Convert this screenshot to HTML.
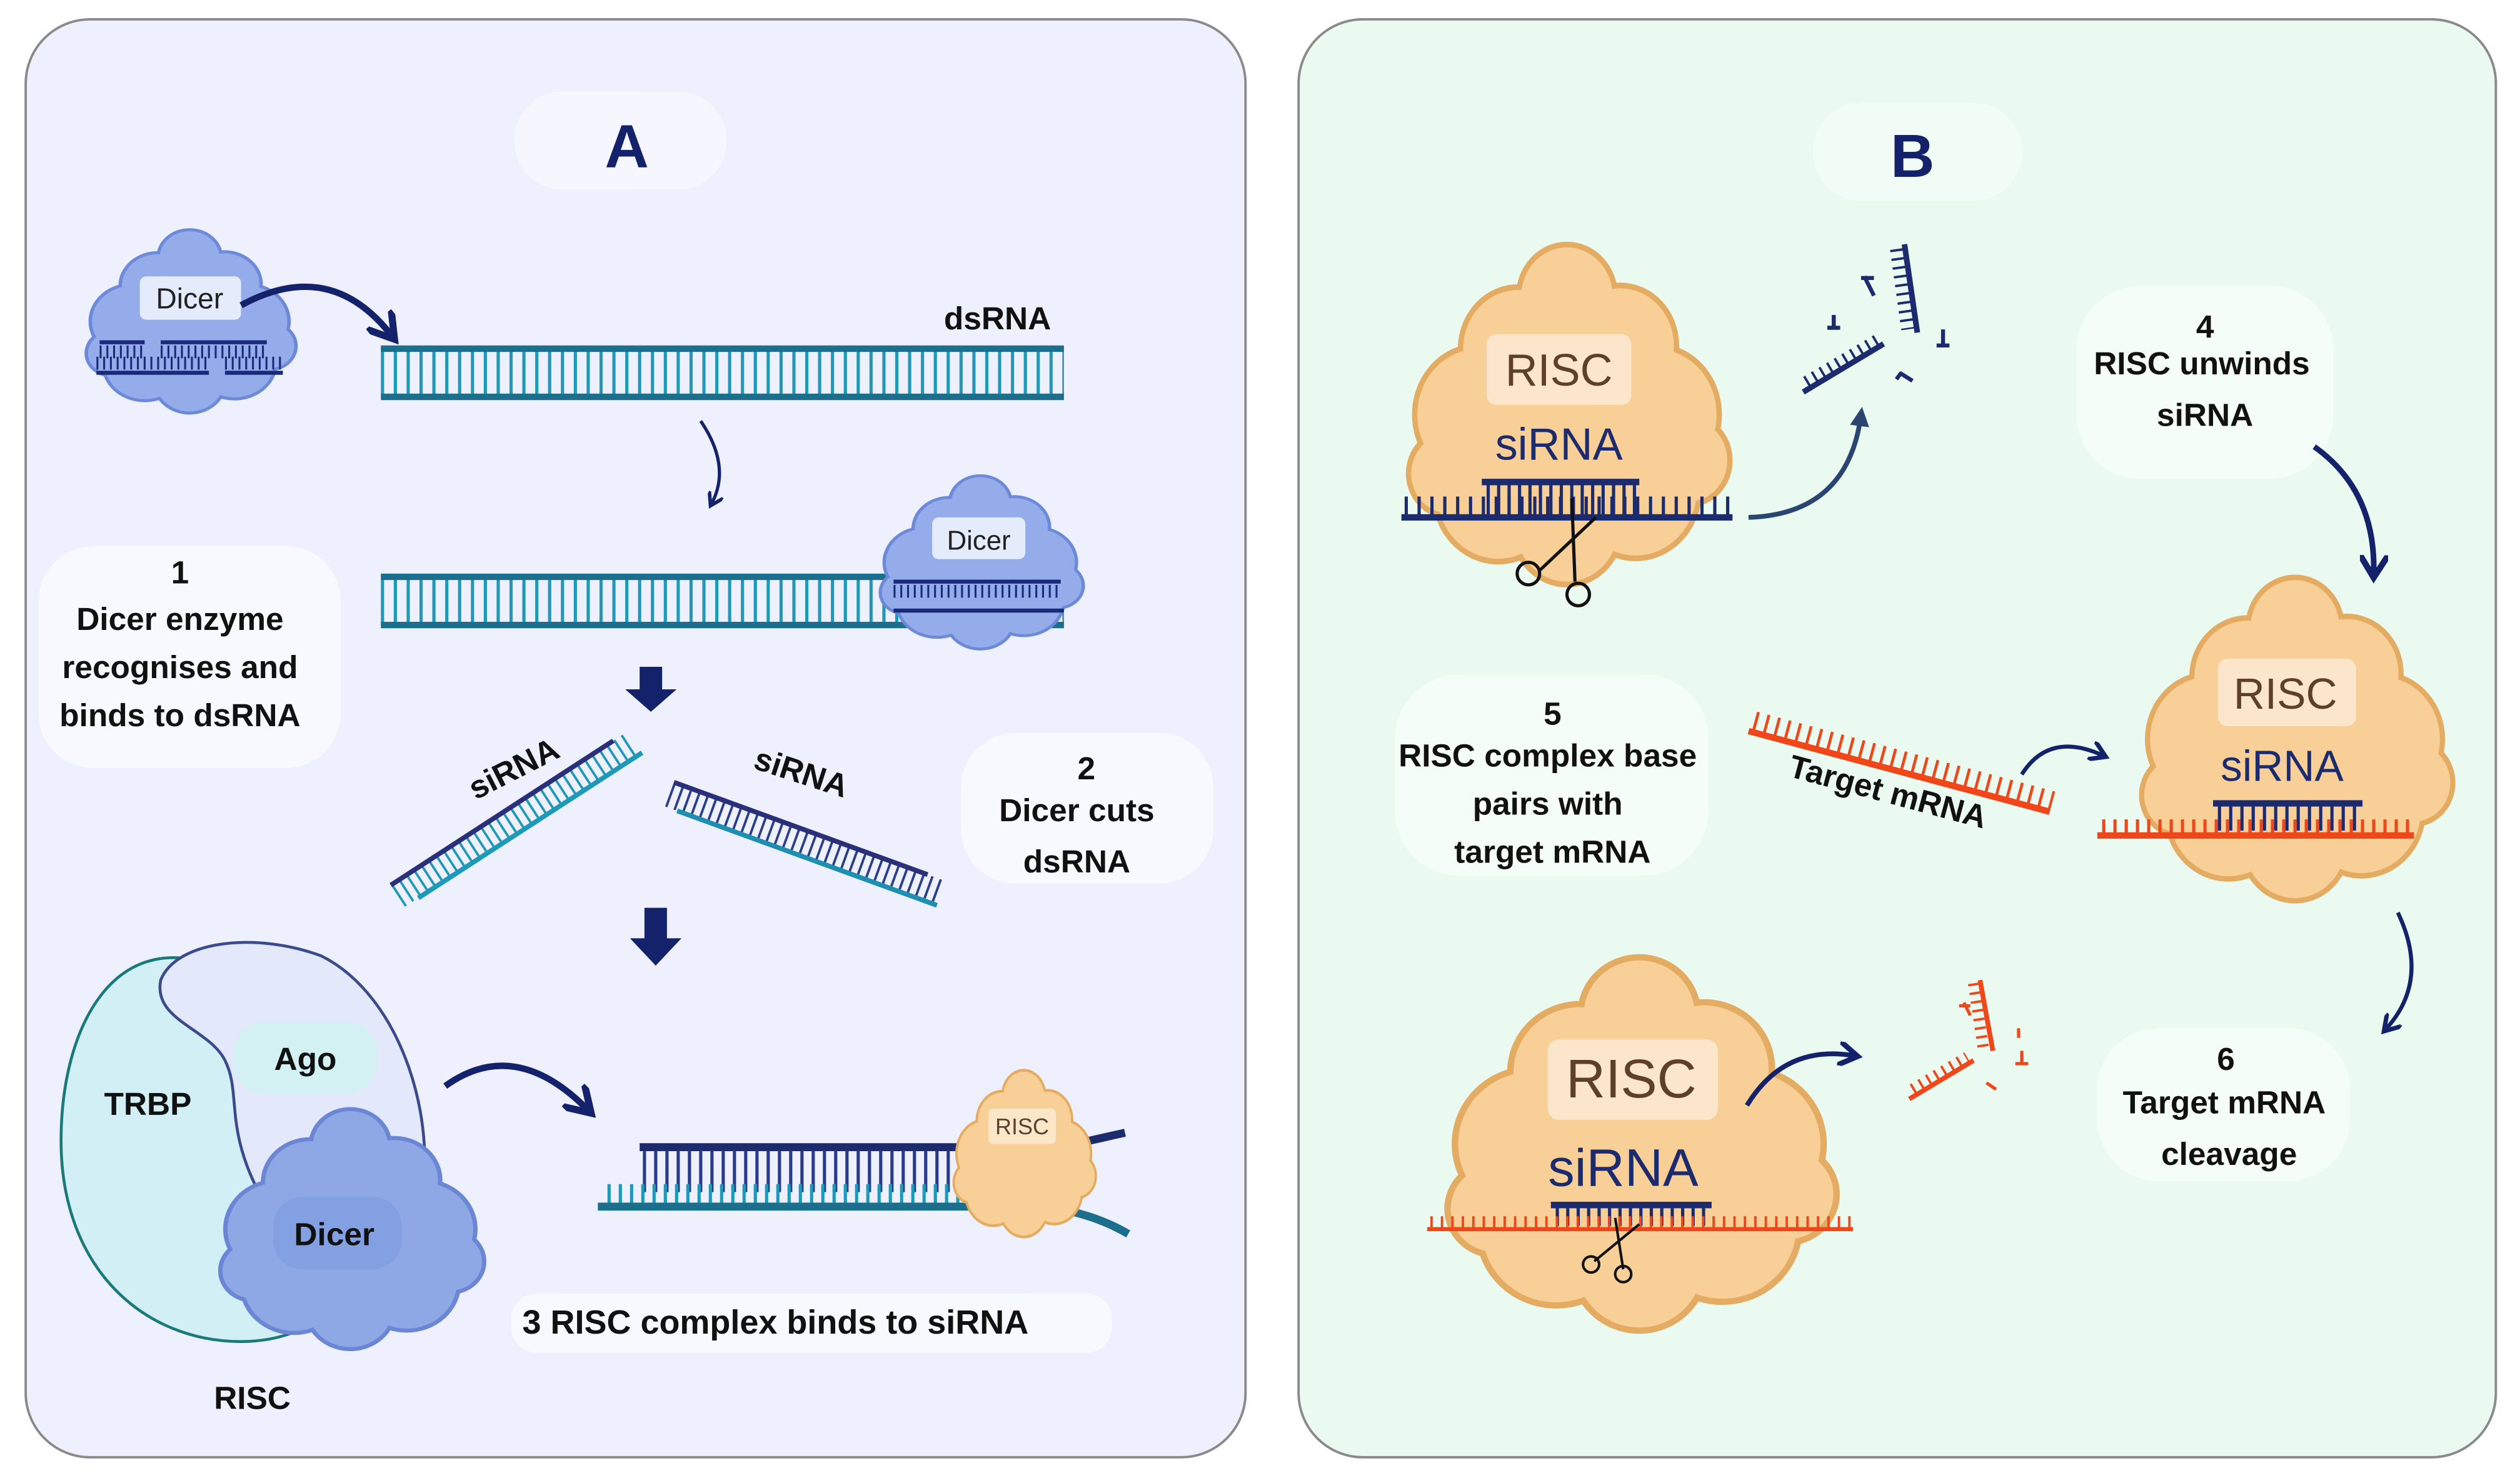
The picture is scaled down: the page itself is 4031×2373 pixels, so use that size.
<!DOCTYPE html>
<html><head><meta charset="utf-8"><style>
html,body{margin:0;padding:0;background:#fff}
svg{display:block}
text{font-family:"Liberation Sans",sans-serif}
.b{font-weight:bold;fill:#111}
</style></head><body>
<svg width="4031" height="2373" viewBox="0 0 1568 923" xmlns="http://www.w3.org/2000/svg">
<defs>
<g id="blob">
<g stroke-width="7">
<circle cx="0" cy="-72" r="30"/><circle cx="-32" cy="-40" r="36"/><circle cx="35" cy="-42" r="35"/>
<circle cx="-58" cy="0" r="40"/><circle cx="58" cy="0" r="40"/><circle cx="0" cy="5" r="58"/>
<circle cx="-45" cy="48" r="40"/><circle cx="45" cy="46" r="40"/><circle cx="0" cy="68" r="34"/>
<circle cx="80" cy="28" r="25"/><circle cx="-78" cy="36" r="24"/>
</g>
<g stroke="none">
<circle cx="0" cy="-72" r="30"/><circle cx="-32" cy="-40" r="36"/><circle cx="35" cy="-42" r="35"/>
<circle cx="-58" cy="0" r="40"/><circle cx="58" cy="0" r="40"/><circle cx="0" cy="5" r="58"/>
<circle cx="-45" cy="48" r="40"/><circle cx="45" cy="46" r="40"/><circle cx="0" cy="68" r="34"/>
<circle cx="80" cy="28" r="25"/><circle cx="-78" cy="36" r="24"/>
</g>
</g>
<marker id="ah" viewBox="0 0 10 10" refX="6" refY="5" markerWidth="5" markerHeight="5" orient="auto"><path d="M0,0 L8,5 L0,10" fill="none" stroke="#13226b" stroke-width="2.2"/></marker>
<marker id="ahs" viewBox="0 0 10 10" refX="6" refY="5" markerWidth="4" markerHeight="4" orient="auto"><path d="M0,0 L10,5 L0,10z" fill="#2a4670"/></marker>
</defs>

<rect x="16" y="12" width="759" height="895" rx="40" fill="#eff0fd" stroke="#8a8a8a" stroke-width="1.5"/>
<rect x="808" y="12" width="745" height="895" rx="40" fill="#ebfaf1" stroke="#8a8a8a" stroke-width="1.5"/>
<rect x="320" y="57" width="132" height="61" rx="30" fill="#f6f7fe"/>
<text x="390" y="104" text-anchor="middle" font-size="38" font-weight="bold" fill="#13226b">A</text>
<rect x="1128" y="64" width="130" height="61" rx="30" fill="#f2fcf6"/>
<text x="1190" y="110" text-anchor="middle" font-size="38" font-weight="bold" fill="#13226b">B</text>

<use href="#blob" transform="translate(118,200) scale(0.62,0.55)" fill="#94ace9" stroke="#6c8ad8"/>
<rect x="87" y="172" width="63" height="27" rx="4" fill="#e4ebfb"/>
<text x="118" y="192" text-anchor="middle" font-size="18" fill="#222">Dicer</text>
<g stroke="#1a2a7a">
<line x1="62" y1="213" x2="90" y2="213" stroke-width="2.5"/><line x1="100" y1="213" x2="166" y2="213" stroke-width="2.5"/>
<line x1="62" y1="219" x2="90" y2="219" stroke-width="8" stroke-dasharray="1.2 3"/><line x1="100" y1="219" x2="166" y2="219" stroke-width="8" stroke-dasharray="1.2 3"/>
<line x1="60" y1="232" x2="130" y2="232" stroke-width="2.5"/><line x1="140" y1="232" x2="176" y2="232" stroke-width="2.5"/>
<line x1="60" y1="226" x2="130" y2="226" stroke-width="8" stroke-dasharray="1.2 3"/><line x1="140" y1="226" x2="176" y2="226" stroke-width="8" stroke-dasharray="1.2 3"/>
</g>
<path d="M150,190 Q205,160 243,208" fill="none" stroke="#13226b" stroke-width="4" marker-end="url(#ah)"/>

<text x="654" y="205" text-anchor="end" class="b" font-size="20">dsRNA</text>
<line x1="237" y1="232" x2="662" y2="232" stroke="#1e9ab8" stroke-width="30" stroke-dasharray="2 6"/>
<line x1="237" y1="217" x2="662" y2="217" stroke="#1b6e8c" stroke-width="4"/>
<line x1="237" y1="247" x2="662" y2="247" stroke="#1b6e8c" stroke-width="4"/>
<path d="M436,262 Q455,290 443,313" fill="none" stroke="#13226b" stroke-width="2" marker-end="url(#ah)"/>

<line x1="237" y1="374" x2="662" y2="374" stroke="#1e9ab8" stroke-width="30" stroke-dasharray="2 6"/>
<line x1="237" y1="359" x2="662" y2="359" stroke="#1b6e8c" stroke-width="4"/>
<line x1="237" y1="389" x2="662" y2="389" stroke="#1b6e8c" stroke-width="4"/>
<use href="#blob" transform="translate(610,350) scale(0.6,0.52)" fill="#94ace9" stroke="#6c8ad8"/>
<rect x="580" y="322" width="58" height="26" rx="4" fill="#e4ebfb"/>
<text x="609" y="342" text-anchor="middle" font-size="17" fill="#222">Dicer</text>
<g stroke="#1a2a7a">
<line x1="556" y1="362" x2="660" y2="362" stroke-width="2.5"/>
<line x1="556" y1="368" x2="660" y2="368" stroke-width="8" stroke-dasharray="1.2 3"/>
<line x1="556" y1="380" x2="662" y2="380" stroke-width="2.5"/>
</g>

<rect x="24" y="340" width="188" height="138" rx="34" fill="#f8f9fe"/>
<g font-size="20" text-anchor="middle">
<text x="112" y="363" class="b">1</text>
<text x="112" y="392" class="b">Dicer enzyme</text>
<text x="112" y="422" class="b">recognises and</text>
<text x="112" y="452" class="b">binds to dsRNA</text>
</g>

<path d="M398,415 h14 v14 h9 l-16,14 l-16,-14 h9z" fill="#13226b"/>

<g transform="translate(253,566) rotate(-33)">
<line x1="0" y1="-10" x2="176" y2="-10" stroke="#1e9ab8" stroke-width="16" stroke-dasharray="1.5 4"/>
<line x1="0" y1="-18" x2="165" y2="-18" stroke="#2a2f7a" stroke-width="3"/>
<line x1="10" y1="-2" x2="176" y2="-2" stroke="#1e9ab8" stroke-width="3"/>
</g>
<text x="296" y="498" class="b" font-size="20" transform="rotate(-27 296 498)">siRNA</text>
<g transform="translate(420,485) rotate(20)">
<line x1="0" y1="10" x2="180" y2="10" stroke="#2a3f8a" stroke-width="16" stroke-dasharray="1.5 4"/>
<line x1="0" y1="2" x2="168" y2="2" stroke="#2a2f7a" stroke-width="3"/>
<line x1="8" y1="18" x2="180" y2="18" stroke="#1e8fb0" stroke-width="3"/>
</g>
<text x="468" y="478" class="b" font-size="20" transform="rotate(18 468 478)">siRNA</text>

<rect x="598" y="456" width="157" height="94" rx="34" fill="#f8f9fe"/>
<g font-size="20" text-anchor="middle">
<text x="676" y="485" class="b">2</text>
<text x="670" y="511" class="b">Dicer cuts</text>
<text x="670" y="543" class="b">dsRNA</text>
</g>

<path d="M401,565 h14 v19 h9 l-16,17 l-16,-17 h9z" fill="#13226b"/>

<path d="M130,600 C70,580 38,640 38,710 C38,790 90,835 150,835 C200,835 230,800 240,760 L150,620z" fill="#d3eff6" stroke="#1a7a7a" stroke-width="1.8"/>
<path d="M100,610 C110,585 160,580 200,595 C250,620 275,700 260,760 C240,800 180,780 160,740 C140,700 150,680 140,660 C130,640 95,635 100,610z" fill="#e3e9fb" stroke="#3a4a8a" stroke-width="1.8"/>
<rect x="145" y="636" width="90" height="45" rx="20" fill="#d3f0f2"/>
<text x="190" y="666" text-anchor="middle" class="b" font-size="20">Ago</text>
<text x="92" y="694" text-anchor="middle" class="b" font-size="20">TRBP</text>
<use href="#blob" transform="translate(218,765) scale(0.78,0.72)" fill="#8ea8e6" stroke="#6a86d4"/>
<rect x="170" y="745" width="80" height="45" rx="18" fill="#82a0e2"/>
<text x="208" y="775" text-anchor="middle" class="b" font-size="20">Dicer</text>
<text x="157" y="877" text-anchor="middle" class="b" font-size="20">RISC</text>

<path d="M277,676 Q320,645 365,690" fill="none" stroke="#13226b" stroke-width="4" marker-end="url(#ah)"/>

<line x1="398" y1="714" x2="640" y2="714" stroke="#1c2a6e" stroke-width="5"/>
<line x1="400" y1="729" x2="640" y2="729" stroke="#2a3a8a" stroke-width="26" stroke-dasharray="2 5"/>
<line x1="378" y1="743" x2="640" y2="743" stroke="#1e9ab8" stroke-width="12" stroke-dasharray="2 5"/>
<line x1="372" y1="751" x2="650" y2="751" stroke="#1b6e8c" stroke-width="5"/>
<path d="M650,751 Q680,755 702,768" fill="none" stroke="#1b6e8c" stroke-width="5"/>
<path d="M660,714 L700,705" fill="none" stroke="#1c2a6e" stroke-width="5"/>
<use href="#blob" transform="translate(637,718) scale(0.42,0.5)" fill="#f8cf96" stroke="#e3ac62"/>
<rect x="615" y="690" width="42" height="22" rx="3" fill="#fbe6c8"/>
<text x="636" y="706" text-anchor="middle" font-size="14" fill="#5a4030">RISC</text>

<rect x="318" y="805" width="374" height="37" rx="16" fill="#f8f9fe"/>
<text x="325" y="830" class="b" font-size="21">3 RISC complex binds to siRNA</text>

<use href="#blob" transform="translate(975,258) scale(0.95,1.02)" fill="#f8cf96" stroke="#e3ac62"/>
<rect x="925" y="208" width="90" height="44" rx="6" fill="#fbe6cb"/>
<text x="970" y="240" text-anchor="middle" font-size="28" fill="#5e4028">RISC</text>
<text x="970" y="286" text-anchor="middle" font-size="28" fill="#1c2a6e">siRNA</text>
<line x1="922" y1="300" x2="1020" y2="300" stroke="#1c2a6e" stroke-width="4"/>
<line x1="925" y1="311" x2="1020" y2="311" stroke="#1c2a6e" stroke-width="22" stroke-dasharray="2 4.5"/>
<line x1="874" y1="315" x2="1078" y2="315" stroke="#1c2a6e" stroke-width="12" stroke-dasharray="2 6"/>
<line x1="872" y1="322" x2="1078" y2="322" stroke="#1c2a6e" stroke-width="4"/>
<g stroke="#111" stroke-width="2" fill="none">
<line x1="993" y1="322" x2="958" y2="355"/><line x1="978" y1="310" x2="980" y2="362"/>
<circle cx="951" cy="357" r="7"/><circle cx="982" cy="370" r="7"/>
</g>
<path d="M1088,322 Q1150,320 1158,258" fill="none" stroke="#2a4670" stroke-width="3" marker-end="url(#ahs)"/>
<g stroke="#1c2a6e" fill="none">
<line x1="1122" y1="244" x2="1172" y2="214" stroke-width="3.5"/>
<line x1="1124" y1="238" x2="1168" y2="212" stroke-width="8" stroke-dasharray="1.5 4"/>
<line x1="1185" y1="152" x2="1193" y2="207" stroke-width="3.5"/>
<line x1="1180" y1="155" x2="1187" y2="205" stroke-width="8" stroke-dasharray="1.5 4"/>
<path d="M1141,196 v8 M1137,204 h8 M1209,205 v10 M1205,215 h8 M1160,172 l6,12 M1158,173 h8 M1182,232 l8,5 M1183,232 l-3,4" stroke-width="2.5"/>
</g>

<rect x="1292" y="178" width="160" height="120" rx="40" fill="#f5fdf8"/>
<g font-size="20" text-anchor="middle">
<text x="1372" y="210" class="b">4</text>
<text x="1370" y="233" class="b">RISC unwinds</text>
<text x="1372" y="265" class="b">siRNA</text>
</g>
<path d="M1440,278 Q1478,305 1477,356" fill="none" stroke="#13226b" stroke-width="3.5" marker-end="url(#ah)"/>

<use href="#blob" transform="translate(1428,460) scale(0.92,0.97)" fill="#f8cf96" stroke="#e3ac62"/>
<rect x="1380" y="410" width="86" height="42" rx="6" fill="#fbe6cb"/>
<text x="1422" y="441" text-anchor="middle" font-size="27" fill="#5e4028">RISC</text>
<text x="1420" y="486" text-anchor="middle" font-size="27" fill="#1c2a6e">siRNA</text>
<line x1="1377" y1="500" x2="1470" y2="500" stroke="#1c2a6e" stroke-width="4"/>
<line x1="1380" y1="509" x2="1468" y2="509" stroke="#1c2a6e" stroke-width="16" stroke-dasharray="2 5"/>
<line x1="1308" y1="515" x2="1500" y2="515" stroke="#f0471a" stroke-width="10" stroke-dasharray="2 5"/>
<line x1="1305" y1="520" x2="1502" y2="520" stroke="#f0471a" stroke-width="4"/>

<rect x="868" y="420" width="195" height="125" rx="40" fill="#f5fdf8"/>
<g font-size="20" text-anchor="middle">
<text x="966" y="451" class="b">5</text>
<text x="963" y="477" class="b">RISC complex base</text>
<text x="963" y="507" class="b">pairs with</text>
<text x="966" y="537" class="b">target mRNA</text>
</g>
<g transform="translate(1088,455) rotate(15)">
<line x1="0" y1="0" x2="194" y2="0" stroke="#f0471a" stroke-width="4"/>
<line x1="2" y1="-7" x2="194" y2="-7" stroke="#f0471a" stroke-width="12" stroke-dasharray="1.8 5"/>
</g>
<text x="1112" y="483" class="b" font-size="20" transform="rotate(15 1112 483)">Target mRNA</text>
<path d="M1258,482 Q1275,455 1308,470" fill="none" stroke="#13226b" stroke-width="2.5" marker-end="url(#ah)"/>
<path d="M1492,568 Q1512,610 1485,640" fill="none" stroke="#13226b" stroke-width="2.5" marker-end="url(#ah)"/>

<rect x="1305" y="640" width="157" height="95" rx="38" fill="#f5fdf8"/>
<g font-size="20" text-anchor="middle">
<text x="1385" y="666" class="b">6</text>
<text x="1384" y="693" class="b">Target mRNA</text>
<text x="1387" y="725" class="b">cleavage</text>
</g>

<use href="#blob" transform="translate(1020,712) scale(1.15,1.12)" fill="#f8cf96" stroke="#e3ac62"/>
<rect x="963" y="647" width="106" height="50" rx="7" fill="#fbe6cb"/>
<text x="1015" y="683" text-anchor="middle" font-size="34" fill="#5e4028">RISC</text>
<text x="1010" y="738" text-anchor="middle" font-size="33" fill="#1c2a6e">siRNA</text>
<line x1="965" y1="750" x2="1065" y2="750" stroke="#1c2a6e" stroke-width="4"/>
<line x1="968" y1="757" x2="1062" y2="757" stroke="#1c2a6e" stroke-width="12" stroke-dasharray="2 4.5"/>
<line x1="890" y1="761" x2="1152" y2="761" stroke="#f0471a" stroke-width="8" stroke-dasharray="1.5 5"/>
<line x1="888" y1="765" x2="1153" y2="765" stroke="#f0471a" stroke-width="2.5"/>
<g stroke="#111" stroke-width="1.6" fill="none">
<line x1="1020" y1="762" x2="992" y2="785"/><line x1="1005" y1="758" x2="1010" y2="790"/>
<circle cx="990" cy="787" r="5"/><circle cx="1010" cy="793" r="5"/>
</g>
<path d="M1087,688 Q1110,650 1153,657" fill="none" stroke="#13226b" stroke-width="3" marker-end="url(#ah)"/>
<g stroke="#f0471a" fill="none">
<line x1="1188" y1="684" x2="1228" y2="660" stroke-width="3"/>
<line x1="1190" y1="678" x2="1224" y2="658" stroke-width="7" stroke-dasharray="1.5 4"/>
<line x1="1232" y1="610" x2="1240" y2="654" stroke-width="3"/>
<line x1="1228" y1="612" x2="1234" y2="652" stroke-width="7" stroke-dasharray="1.5 4"/>
<path d="M1222,624 l4,8 M1219,626 h7 M1258,654 v8 M1254,662 h8 M1236,674 l6,4 M1256,640 v6" stroke-width="2"/>
</g>
</svg>
</body></html>
